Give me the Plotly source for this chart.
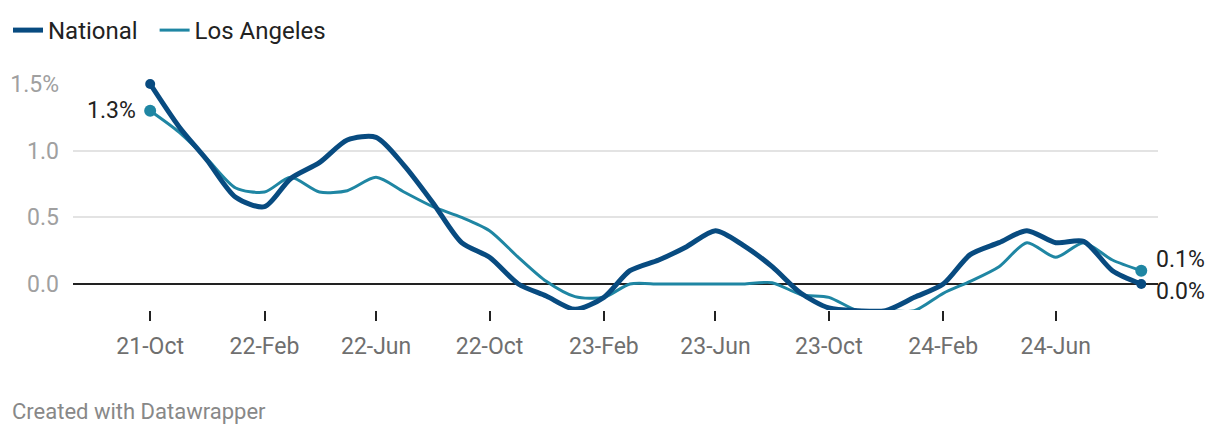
import plotly.graph_objects as go
import pandas as pd

# Monthly values, Oct 2021 - Sep 2024 (percent)
months = pd.date_range("2021-10-01", "2024-09-01", freq="MS")

national = [1.5, 1.18, 0.93, 0.65, 0.58, 0.79, 0.91, 1.08, 1.1, 0.89, 0.61, 0.31,
            0.2, 0.0, -0.09, -0.19, -0.1, 0.1, 0.18, 0.28, 0.4, 0.29, 0.13, -0.07,
            -0.18, -0.2, -0.2, -0.1, 0.0, 0.22, 0.31, 0.4, 0.31, 0.32, 0.1, 0.0]

los_angeles = [1.3, 1.14, 0.94, 0.72, 0.69, 0.8, 0.69, 0.7, 0.8, 0.69, 0.58, 0.5,
               0.4, 0.2, 0.02, -0.095, -0.1, 0.0, 0.0, 0.0, 0.0, 0.0, 0.01, -0.08,
               -0.1, -0.2, -0.2, -0.2, -0.07, 0.02, 0.13, 0.31, 0.2, 0.31, 0.18, 0.1]

y_ticks = [0, 0.5, 1.0, 1.5]
y_tick_text = ["0.0", "0.5", "1.0", "1.5%"]

NAT = "#084b80"
LA = "#1f86a3"
FONT = "Roboto"

fig = go.Figure()

fig.add_trace(go.Scatter(x=months, y=los_angeles, name="Los Angeles", mode="lines",
                         line=dict(color=LA, width=3, shape="spline", smoothing=0.75),
                         cliponaxis=False, legendrank=2))
# trailing nbsp widens the gap before the next legend entry
fig.add_trace(go.Scatter(x=months, y=national, name="National\u00a0\u00a0", mode="lines",
                         line=dict(color=NAT, width=5, shape="spline", smoothing=0.75),
                         cliponaxis=False, legendrank=1))

# end point dots
fig.add_trace(go.Scatter(x=[months[0], months[-1]], y=[los_angeles[0], los_angeles[-1]],
                         mode="markers", marker=dict(color=LA, size=12),
                         showlegend=False, cliponaxis=False))
fig.add_trace(go.Scatter(x=[months[0], months[-1]], y=[national[0], national[-1]],
                         mode="markers", marker=dict(color=NAT, size=10),
                         showlegend=False, cliponaxis=False))

label_font = dict(family=FONT, size=23, color="#222222")
fig.add_annotation(x=months[0], y=los_angeles[0], text="1.3%", showarrow=False,
                   xanchor="right", xshift=-12, font=label_font)
fig.add_annotation(x=months[-1], y=los_angeles[-1], text="0.1%", showarrow=False,
                   xanchor="left", xshift=13, yshift=11, font=label_font)
fig.add_annotation(x=months[-1], y=national[-1], text="0.0%", showarrow=False,
                   xanchor="left", xshift=13, yshift=-7, font=label_font)

fig.add_annotation(text="Created with Datawrapper", xref="paper", yref="paper",
                   x=-0.058, y=-0.447, xanchor="left", yanchor="middle", showarrow=False,
                   font=dict(family=FONT, size=22, color="#888888"))

fig.update_layout(
    width=1212, height=430,
    margin=dict(l=65, r=62, t=76, b=128, autoexpand=False),
    plot_bgcolor="white", paper_bgcolor="white",
    font=dict(family=FONT),
    showlegend=True,
    legend=dict(orientation="h", xref="container", yref="container",
                x=0.0, y=1.0, xanchor="left", yanchor="top",
                font=dict(family=FONT, size=24, color="#222222"),
                itemwidth=30, tracegroupgap=0),
    xaxis=dict(range=["2021-07-10", "2024-09-19"], tickformat="%y-%b",
               tick0="2021-10-01", dtick="M4", showgrid=False, zeroline=False,
               ticks="outside", ticklen=10, tickwidth=2, tickcolor="#222222",
               showline=False, automargin=False, ticklabelstandoff=5,
               tickfont=dict(family=FONT, size=23, color="#6f6f6f")),
    yaxis=dict(range=[-0.195, 1.5], tickvals=y_ticks, ticktext=y_tick_text,
               showgrid=True, gridcolor="#e3e3e3", gridwidth=1.5,
               zeroline=True, zerolinecolor="#222222", zerolinewidth=2,
               ticks="", ticklabelstandoff=13, automargin=False,
               tickfont=dict(family=FONT, size=23, color="#a0a0a0")),
)

fig.write_html("out.html")
